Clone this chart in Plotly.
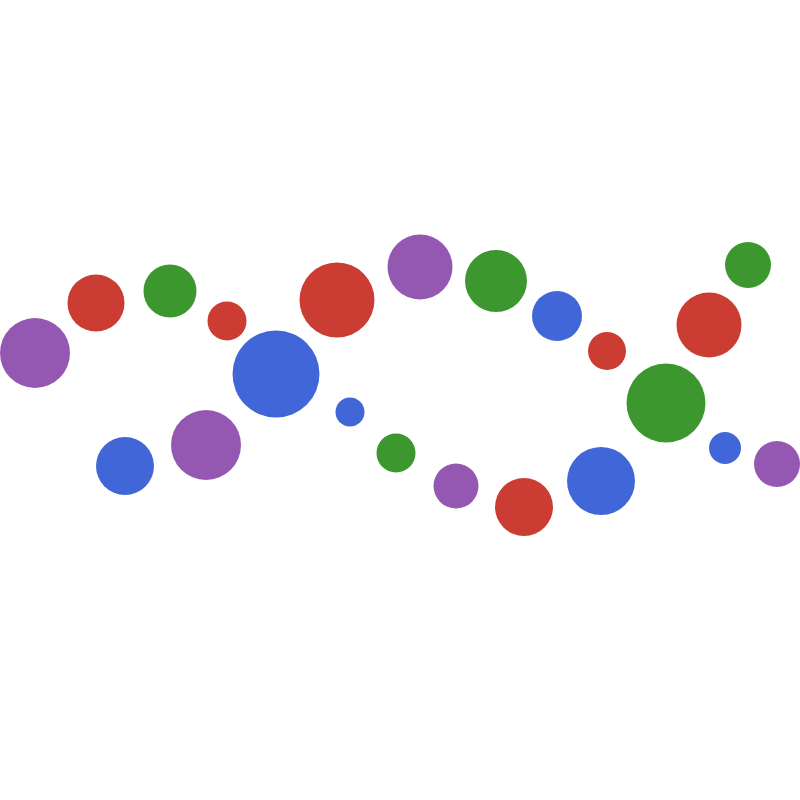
import plotly.graph_objects as go

# bubble positions (x, y), size = diameter in px
x_vals = [3.5, 9.6, 12.5, 17.0, 20.6, 22.7, 27.6, 33.7, 35.0, 39.6, 42.0,
          45.6, 49.6, 52.4, 55.7, 60.1, 60.7, 66.6, 70.9, 72.5, 74.8, 77.7]
y_vals = [44.7, 49.7, 33.4, 50.9, 35.5, 47.9, 42.6, 50.0, 38.8, 34.7, 53.3,
          31.4, 51.9, 29.3, 48.4, 31.9, 44.9, 39.7, 47.5, 35.2, 53.5, 33.6]
sizes = [70, 57, 58, 53, 70, 39, 87, 75, 29, 39, 65,
         45, 62, 58, 50, 68, 38, 79, 65, 32, 46, 46]
kinds = ['purple', 'red', 'blue', 'green', 'purple', 'red', 'blue', 'red',
         'blue', 'green', 'purple', 'purple', 'green', 'red', 'blue', 'blue',
         'red', 'green', 'red', 'blue', 'green', 'purple']

palette = {'red': '#CB3C33', 'green': '#3B972E',
           'purple': '#9558B2', 'blue': '#4166D8'}

bubbles = go.Scatter(x=x_vals, y=y_vals, mode='markers',
                     marker={'size': sizes, 'sizemode': 'diameter',
                             'color': [palette[k] for k in kinds],
                             'opacity': 1, 'line': {'width': 0}},
                     hoverinfo='skip')

layout = go.Layout(width=800, height=800,
                   margin={'l': 0, 'r': 0, 't': 0, 'b': 0},
                   paper_bgcolor='white', plot_bgcolor='white',
                   showlegend=False,
                   xaxis={'range': [0, 80], 'visible': False},
                   yaxis={'range': [0, 80], 'visible': False})

fig = go.Figure(data=[bubbles], layout=layout)
# drop the default 8px body margin so the plot sits at the window corner
fig.write_html("out.html",
               config={'displayModeBar': False},
               post_script="document.body.style.margin='0';"
                           "document.body.style.overflow='hidden';")
